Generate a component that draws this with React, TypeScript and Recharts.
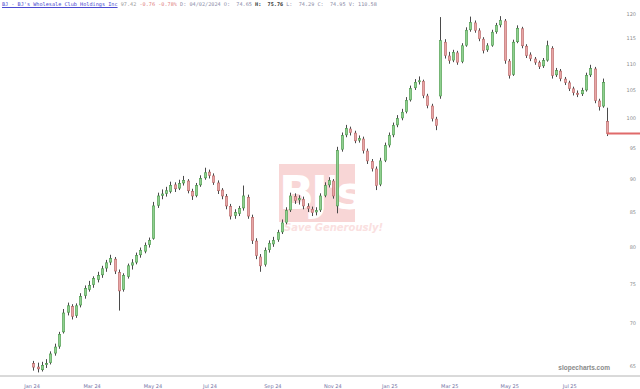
import React from 'react';
import { Bar, ComposedChart, ReferenceLine, XAxis, YAxis } from 'recharts';

// one candle = 3 trading days, Jan 2024 .. Aug 2025
const opens = [
  65.3, 64.9, 64.6, 65.2, 65.4, 66.5, 67.3, 69.0, 71.4, 72.1, 71.0, 72.3, 73.5, 74.3, 74.9, 75.6, 76.2, 77.1, 77.9, 78.3,
  76.5, 74.3, 76.0, 77.5, 77.9, 78.9, 79.4, 80.3, 81.2, 86.0, 87.5, 87.8, 88.1, 89.1, 88.6, 89.4, 89.7, 88.1, 87.5, 89.1,
  90.2, 91.1, 90.5, 89.4, 88.3, 87.3, 85.8, 84.5, 84.8, 85.6, 87.2, 84.2, 80.8, 78.6, 77.6, 79.6, 80.4, 81.0, 82.1, 83.5,
  85.3, 87.3, 86.8, 86.9, 85.8, 85.4, 85.0, 85.3, 87.5, 89.1, 89.7, 85.9, 94.8, 97.2, 98.2, 97.5, 96.3, 96.5, 94.5, 92.8,
  91.6, 89.2, 93.0, 95.5, 97.2, 98.9, 100.1, 101.2, 103.3, 105.5, 106.6, 106.7, 104.0, 102.2, 99.9, 104.0, 114.2, 111.5, 110.7, 112.1,
  110.4, 113.6, 116.7, 118.1, 116.5, 114.8, 112.7, 113.6, 116.3, 117.7, 118.5, 110.5, 108.0, 114.3, 116.9, 113.4, 111.7, 110.9, 110.2, 109.6,
  110.7, 113.0, 107.9, 108.6, 107.1, 106.4, 105.3, 104.5, 104.4, 105.1, 107.9, 109.0, 103.1, 102.2, 99.5,
];
const highs = [
  65.6, 65.4, 65.5, 65.8, 66.7, 67.6, 69.0, 71.8, 72.6, 72.4, 72.5, 73.8, 74.8, 75.4, 76.0, 76.6, 77.4, 78.2, 78.9, 78.6,
  76.9, 76.4, 77.7, 78.3, 79.2, 79.9, 80.6, 81.3, 86.5, 87.9, 88.4, 88.8, 89.6, 89.5, 89.9, 90.5, 90.0, 88.5, 89.4, 90.6,
  91.8, 91.5, 90.9, 89.8, 88.6, 87.7, 86.2, 85.4, 85.9, 89.0, 87.6, 84.6, 81.2, 79.0, 79.9, 80.9, 81.4, 82.4, 83.9, 85.7,
  87.9, 87.8, 87.5, 87.3, 86.3, 85.8, 85.7, 87.8, 89.5, 90.3, 90.0, 95.2, 97.6, 98.9, 98.6, 97.9, 97.1, 96.9, 94.9, 93.2,
  92.0, 93.4, 95.9, 97.6, 99.3, 100.6, 101.7, 103.8, 105.9, 107.1, 107.6, 107.0, 104.4, 102.6, 100.3, 119.3, 114.8, 112.3, 112.7, 112.5,
  114.0, 117.2, 119.4, 118.6, 117.0, 115.2, 114.0, 116.7, 118.1, 119.5, 118.9, 110.9, 114.7, 117.6, 117.3, 113.8, 112.2, 111.3, 110.6, 111.1,
  114.5, 113.4, 109.2, 109.0, 107.5, 106.8, 105.7, 105.0, 105.5, 108.3, 109.8, 109.4, 103.5, 107.2, 101.9,
];
const lows = [
  64.5, 64.3, 64.4, 64.8, 65.2, 66.2, 67.0, 68.8, 71.0, 70.5, 70.7, 72.0, 73.1, 74.0, 74.5, 75.2, 75.8, 76.6, 77.5, 76.3,
  71.6, 74.0, 75.7, 76.9, 77.6, 78.5, 79.1, 79.9, 81.0, 85.6, 86.9, 87.3, 87.8, 88.0, 88.3, 89.0, 87.8, 86.8, 87.2, 88.8,
  89.9, 90.1, 89.1, 87.7, 86.9, 85.4, 83.9, 84.0, 84.4, 85.2, 84.0, 80.4, 78.3, 76.6, 77.3, 79.2, 80.0, 80.7, 81.8, 83.2,
  85.0, 86.2, 86.1, 85.4, 85.0, 84.4, 84.5, 85.0, 87.2, 88.7, 87.0, 84.8, 94.4, 96.8, 97.1, 95.8, 95.9, 94.1, 92.4, 91.2,
  88.3, 88.9, 92.7, 95.1, 96.8, 98.5, 99.7, 100.9, 103.0, 105.1, 106.1, 103.6, 101.8, 99.5, 98.0, 103.5, 111.0, 110.0, 110.3, 109.8,
  110.1, 113.3, 116.3, 116.1, 114.4, 112.0, 112.3, 113.3, 115.9, 117.2, 110.0, 107.2, 107.7, 114.0, 113.0, 111.1, 110.5, 109.8, 109.0, 109.2,
  110.4, 107.2, 107.5, 106.7, 106.0, 104.9, 104.1, 103.8, 104.0, 104.8, 107.5, 102.7, 101.4, 101.9, 97.0,
];
const closes = [
  64.9, 64.7, 65.1, 65.3, 66.4, 67.2, 68.7, 71.3, 72.2, 70.9, 72.2, 73.4, 74.4, 74.8, 75.7, 76.1, 77.0, 77.8, 78.4, 76.7,
  74.1, 76.1, 77.4, 77.8, 78.8, 79.5, 80.2, 80.9, 85.9, 87.4, 87.7, 88.2, 89.0, 88.5, 89.3, 89.8, 88.2, 87.4, 89.0, 90.1,
  91.0, 90.6, 89.5, 88.2, 87.4, 85.9, 84.4, 84.9, 85.5, 87.4, 84.4, 80.9, 78.8, 77.4, 79.5, 80.5, 80.9, 82.0, 83.4, 85.2,
  87.4, 86.7, 87.0, 85.9, 85.5, 84.9, 85.2, 87.4, 89.0, 89.8, 87.4, 94.6, 97.1, 98.3, 97.6, 96.2, 96.6, 94.6, 92.9, 91.7,
  89.0, 92.9, 95.4, 97.1, 98.8, 100.0, 101.1, 103.2, 105.4, 106.5, 106.8, 104.1, 102.3, 100.0, 98.8, 114.5, 111.6, 110.6, 112.2, 110.3,
  113.5, 116.6, 118.2, 116.6, 114.9, 112.6, 113.5, 116.2, 117.6, 118.6, 110.6, 107.8, 114.2, 117.0, 113.5, 111.6, 111.0, 110.3, 109.5, 110.6,
  113.5, 107.8, 108.7, 107.2, 106.5, 105.4, 104.6, 104.3, 105.0, 107.8, 109.1, 103.2, 102.1, 106.5, 97.4,
];

const xTickPositions = [-0.2, 13.8, 28, 41.3, 56, 70, 83.3, 97.3, 111.3, 125.3];
const xTickLabels = ['Jan 24', 'Mar 24', 'May 24', 'Jul 24', 'Sep 24', 'Nov 24', 'Jan 25', 'Mar 25', 'May 25', 'Jul 25'];
const yTicks = [65, 70, 75, 80, 85, 90, 95, 100, 105, 110, 115, 120];
const lastPrice = 97.42;

const data = closes.map((close, i) => ({
  i,
  open: opens[i],
  high: highs[i],
  low: lows[i],
  close,
  range: [lows[i], highs[i]],
}));

function Candle(props: any) {
  const { x, y, width, height, payload } = props;
  if (!payload || height == null) return null;
  const { open, close, high, low } = payload;
  const up = close >= open;
  // bar spans low..high on a log axis, so place open/close in log space
  const lh = Math.log(high);
  const span = lh - Math.log(low) || 1;
  const toY = (v: number) => y + (height * (lh - Math.log(v))) / span;
  const cx = Math.round(x + width / 2) + 0.5;
  const top = toY(Math.max(open, close));
  const bot = toY(Math.min(open, close));
  return (
    <g>
      <line x1={cx} x2={cx} y1={y} y2={y + height} stroke="#4a4a4a" strokeWidth={1} />
      <rect
        x={cx - 1.2}
        y={top}
        width={2.4}
        height={Math.max(bot - top, 1)}
        fill={up ? '#8fd08f' : '#e8a6a6'}
        stroke={up ? '#4f9a4f' : '#b86a6a'}
        strokeWidth={0.6}
      />
    </g>
  );
}

export default function App() {
  return (
    <div style={{ position: 'relative', width: 640, height: 389, background: '#fff', fontFamily: 'DejaVu Sans' }}>
      <style>{'body{margin:0}'}</style>
      {/* watermark */}
      <div style={{ position: 'absolute', left: 279, top: 164, width: 76, height: 58, background: '#f8d6d6' }}>
        <div style={{ color: '#fff', fontSize: 46, fontWeight: 900, lineHeight: '58px', textAlign: 'center', letterSpacing: -3 }}>
          BJ's
        </div>
      </div>
      <div
        style={{ position: 'absolute', left: 284, top: 222, fontSize: 10, fontWeight: 700, fontStyle: 'italic', color: '#fae0e0' }}
      >
        Save Generously!
      </div>
      <div style={{ position: 'absolute', left: 0, top: 0 }}>
        <ComposedChart width={640} height={389} data={data} margin={{ top: 0, right: 0, bottom: 0, left: 0 }}>
          <XAxis
            dataKey="i"
            type="number"
            domain={[-7.7, 141.7]}
            ticks={xTickPositions}
            tickFormatter={(v: number) => xTickLabels[xTickPositions.indexOf(v)] ?? ''}
            tick={{ fontSize: 5, fill: '#7474a6' }}
            tickLine={false}
            axisLine={{ stroke: '#b4b4b4' }}
            height={13}
            interval={0}
          />
          <YAxis
            orientation="right"
            mirror
            scale="log"
            domain={[63.9, 122.9]}
            allowDataOverflow
            ticks={yTicks}
            tick={{ fontSize: 5, fill: '#8c8c8c' }}
            axisLine={false}
            tickLine={false}
            tickSize={0}
            tickMargin={4}
            width={20}
          />
          <Bar dataKey="range" barSize={3} shape={<Candle />} isAnimationActive={false} />
          <ReferenceLine
            segment={[
              { x: 134, y: lastPrice },
              { x: 141.7, y: lastPrice },
            ]}
            stroke="#e06a6a"
            strokeWidth={2}
          />
        </ComposedChart>
      </div>
      <div
        style={{ position: 'absolute', left: 2, top: 1, fontFamily: 'DejaVu Sans Mono', fontSize: 5.2, whiteSpace: 'pre', color: '#8a8aa6' }}
      >
        <span style={{ color: '#4a4ad0', textDecoration: 'underline' }}>BJ - BJ's Wholesale Club Holdings Inc</span>
        <span style={{ color: '#999' }}> 97.42 </span>
        <span style={{ color: '#e08080' }}>-0.76 -0.78%</span>
        {' D: 04/02/2024 O:  74.65 '}
        <b style={{ color: '#333' }}>H:  75.76</b>
        {' L:  74.29 C:  74.95 V: 110.58'}
      </div>
      <div
        style={{
          position: 'absolute',
          right: 30,
          top: 364,
          fontFamily: 'Liberation Sans',
          fontSize: 6.5,
          fontWeight: 700,
          color: '#8a8a8a',
          whiteSpace: 'nowrap',
        }}
      >
        slopecharts.com
      </div>
    </div>
  );
}
